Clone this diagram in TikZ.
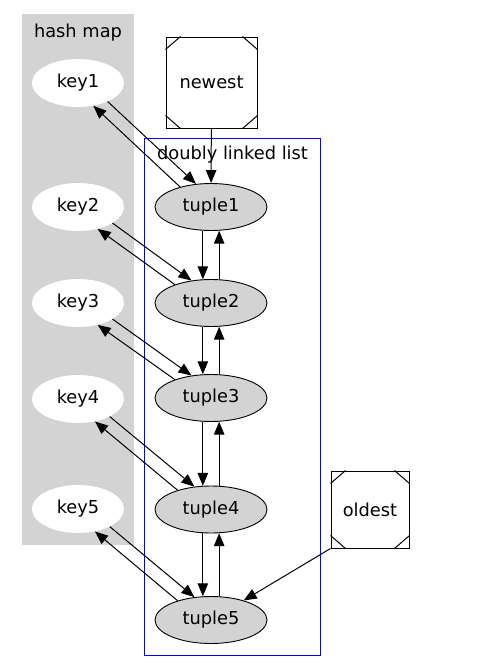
\documentclass[tikz,border=0pt]{standalone}
\usepackage{fontspec}
\setmainfont{DejaVu Sans}
\usetikzlibrary{shapes.geometric,arrows.meta,calc}
\definecolor{lgray}{RGB}{211,211,211}
\begin{document}
\begin{tikzpicture}[x=1pt,y=-1pt,
  every node/.style={font=\fontsize{17.8}{21}\selectfont},
  keynode/.style={ellipse, fill=white, minimum width=92pt, minimum height=48pt, inner sep=0pt},
  tuplenode/.style={ellipse, draw=black, fill=lgray, line width=0.9pt, minimum width=112pt, minimum height=47pt, inner sep=0pt},
  msq/.style={rectangle, draw=black, line width=1pt, fill=white, inner sep=0pt},
  edgeline/.style={draw=black, line width=1pt, -{Triangle[length=13pt,width=10.5pt]}},
  corner/.style={draw=black, line width=1pt}]
\useasboundingbox (0,0) rectangle (478,672);
\fill[white] (0,0) rectangle (478,672);
% clusters
\node[rectangle, fill=lgray, minimum width=112pt, minimum height=531pt, inner sep=0pt] (hashmap) at (78,279.5) {};
\node (hashlabel) at (78,32.5) {hash map};
\node[rectangle, draw=blue, line width=1pt, minimum width=176pt, minimum height=517pt, inner sep=0pt] (dll) at (232.5,396.5) {};
\node (dlllabel) at (232.5,155) {doubly linked list};
% keys
\node[keynode] (k1) at (78,83) {key1};
\node[keynode] (k2) at (78,207) {key2};
\node[keynode] (k3) at (78,303) {key3};
\node[keynode] (k4) at (78,399) {key4};
\node[keynode] (k5) at (78,509) {key5};
% tuples
\node[tuplenode] (t1) at (211,207) {tuple1};
\node[tuplenode] (t2) at (211,303) {tuple2};
\node[tuplenode] (t3) at (211,398) {tuple3};
\node[tuplenode] (t4) at (211,509.5) {tuple4};
\node[tuplenode] (t5) at (211,620) {tuple5};
% Msquares
\node[msq, minimum width=91pt, minimum height=91pt] (newest) at (211.5,82.5) {newest};
\node[msq, minimum width=78pt, minimum height=77pt] (oldest) at (370,509.5) {oldest};
\foreach \n in {newest,oldest}{
  \draw[corner] ($(\n.north west)+(0,13)$) -- ($(\n.north west)+(15,0)$);
  \draw[corner] ($(\n.north east)+(0,13)$) -- ($(\n.north east)+(-15,0)$);
  \draw[corner] ($(\n.south west)+(0,-13)$) -- ($(\n.south west)+(15,0)$);
  \draw[corner] ($(\n.south east)+(0,-13)$) -- ($(\n.south east)+(-15,0)$);
}
% edges
\draw[edgeline] (newest) -- (t1);
\draw[edgeline] (oldest.south west) -- (t5);
\draw[edgeline] (k1.-32.2) -- (t1.123.1);
\draw[edgeline] (t1.147.2) -- (k1.-56.8);
\draw[edgeline] (k2.-25.8) -- (t2.131.4);
\draw[edgeline] (t2.153.4) -- (k2.-48.8);
\draw[edgeline] (k3.-25.8) -- (t3.131.4);
\draw[edgeline] (t3.153.4) -- (k3.-48.8);
\draw[edgeline] (k4.-29.3) -- (t4.126.9);
\draw[edgeline] (t4.150.1) -- (k4.-53.1);
\draw[edgeline] (k5.-29.3) -- (t5.126.9);
\draw[edgeline] (t5.150.1) -- (k5.-53.1);
\draw[edgeline] (t1.-109) -- (t2.109);
\draw[edgeline] (t2.71) -- (t1.-71);
\draw[edgeline] (t2.-109) -- (t3.109);
\draw[edgeline] (t3.71) -- (t2.-71);
\draw[edgeline] (t3.-109) -- (t4.109);
\draw[edgeline] (t4.71) -- (t3.-71);
\draw[edgeline] (t4.-109) -- (t5.109);
\draw[edgeline] (t5.71) -- (t4.-71);
\end{tikzpicture}
\end{document}
